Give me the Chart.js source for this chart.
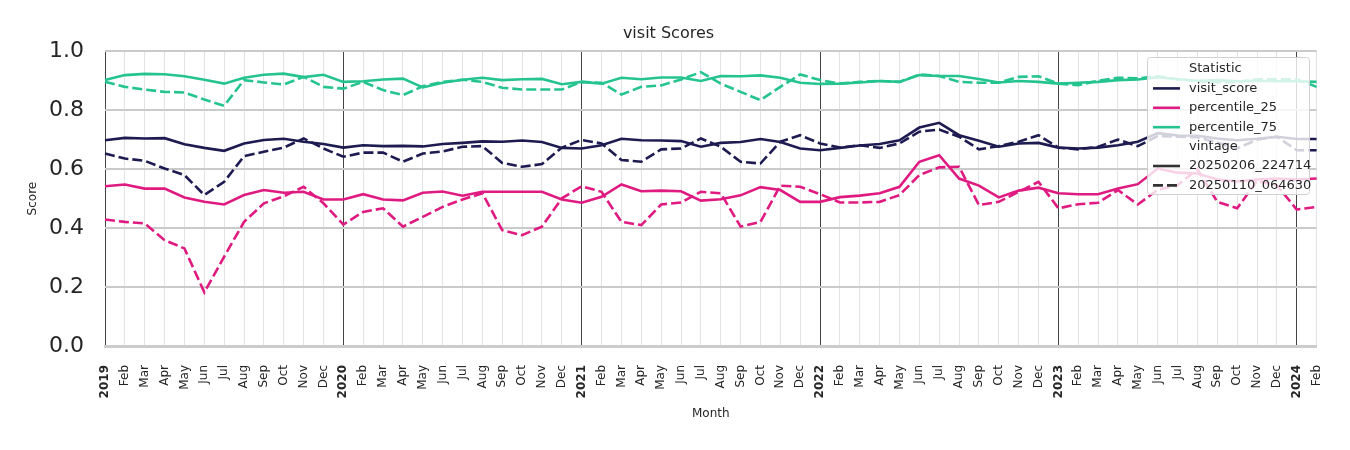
<!DOCTYPE html>
<html>
<head>
<meta charset="utf-8">
<script src="https://cdn.jsdelivr.net/npm/chart.js@4.4.1/dist/chart.umd.min.js"></script>
<style>
  html, body { margin: 0; padding: 0; background: #fff; }
  #wrap { width: 1350px; height: 450px; }
</style>
</head>
<body>
<div id="wrap"><canvas id="scoreChart" width="1350" height="450"></canvas></div>
<script>
// tick labels, one per month (Jan 2019 .. Feb 2024)
const months = [
  '2019','Feb','Mar','Apr','May','Jun','Jul','Aug','Sep','Oct','Nov','Dec',
  '2020','Feb','Mar','Apr','May','Jun','Jul','Aug','Sep','Oct','Nov','Dec',
  '2021','Feb','Mar','Apr','May','Jun','Jul','Aug','Sep','Oct','Nov','Dec',
  '2022','Feb','Mar','Apr','May','Jun','Jul','Aug','Sep','Oct','Nov','Dec',
  '2023','Feb','Mar','Apr','May','Jun','Jul','Aug','Sep','Oct','Nov','Dec',
  '2024','Feb'
];
const yTicks = [0, 0.2, 0.4, 0.6, 0.8, 1.0];

const statistics = ['visit_score', 'percentile_25', 'percentile_75'];
const vintages = ['20250206_224714', '20250110_064630'];

// vintage 20250206_224714 (solid)
const visitScore = [
  0.698, 0.706, 0.704, 0.705, 0.684, 0.672, 0.662, 0.687, 0.699, 0.703, 0.693, 0.685,
  0.673, 0.681, 0.678, 0.679, 0.677, 0.685, 0.689, 0.694, 0.693, 0.697, 0.692, 0.672,
  0.670, 0.681, 0.703, 0.698, 0.697, 0.695, 0.676, 0.689, 0.692, 0.702, 0.692, 0.670,
  0.664, 0.672, 0.680, 0.685, 0.698, 0.741, 0.757, 0.715, 0.696, 0.676, 0.687, 0.689,
  0.673, 0.670, 0.673, 0.681, 0.693, 0.722, 0.714, 0.713, 0.704, 0.698, 0.703, 0.710,
  0.702, 0.702
];
const pct25 = [
  0.542, 0.548, 0.534, 0.534, 0.504, 0.489, 0.480, 0.512, 0.529, 0.520, 0.523, 0.497,
  0.497, 0.515, 0.497, 0.494, 0.520, 0.524, 0.510, 0.523, 0.523, 0.523, 0.523, 0.497,
  0.486, 0.506, 0.548, 0.525, 0.527, 0.525, 0.493, 0.498, 0.511, 0.539, 0.529, 0.489,
  0.489, 0.505, 0.510, 0.518, 0.540, 0.625, 0.647, 0.568, 0.544, 0.504, 0.527, 0.537,
  0.518, 0.515, 0.515, 0.534, 0.549, 0.602, 0.588, 0.585, 0.565, 0.558, 0.565, 0.568,
  0.565, 0.568
];
const pct75 = [
  0.902, 0.919, 0.923, 0.922, 0.915, 0.903, 0.890, 0.910, 0.920, 0.924, 0.912, 0.920,
  0.896, 0.898, 0.904, 0.907, 0.877, 0.893, 0.903, 0.910, 0.902, 0.905, 0.906, 0.888,
  0.896, 0.890, 0.910, 0.905, 0.911, 0.911, 0.899, 0.916, 0.915, 0.918, 0.910, 0.893,
  0.889, 0.890, 0.894, 0.899, 0.896, 0.919, 0.916, 0.916, 0.906, 0.894, 0.899, 0.896,
  0.890, 0.893, 0.896, 0.902, 0.904, 0.912, 0.905, 0.900, 0.902, 0.898, 0.900, 0.898,
  0.898, 0.896
];

// vintage 20250110_064630 (dashed)
const visitScoreOld = [
  0.653, 0.636, 0.628, 0.602, 0.580, 0.512, 0.557, 0.644, 0.659, 0.673, 0.704, 0.670,
  0.642, 0.656, 0.656, 0.625, 0.653, 0.660, 0.676, 0.678, 0.621, 0.608, 0.617, 0.673,
  0.699, 0.687, 0.631, 0.625, 0.667, 0.670, 0.704, 0.676, 0.625, 0.619, 0.693, 0.715,
  0.687, 0.673, 0.681, 0.672, 0.687, 0.727, 0.734, 0.710, 0.667, 0.678, 0.693, 0.715,
  0.673, 0.667, 0.676, 0.700, 0.678, 0.712, 0.710, 0.708, 0.690, 0.670, 0.700, 0.710,
  0.664, 0.664
];
const pct25Old = [
  0.429, 0.421, 0.416, 0.359, 0.331, 0.182, 0.303, 0.421, 0.484, 0.508, 0.540, 0.484,
  0.412, 0.455, 0.467, 0.405, 0.438, 0.472, 0.497, 0.518, 0.393, 0.376, 0.405, 0.501,
  0.542, 0.523, 0.421, 0.410, 0.480, 0.487, 0.523, 0.518, 0.405, 0.421, 0.544, 0.540,
  0.515, 0.487, 0.487, 0.489, 0.512, 0.580, 0.606, 0.608, 0.478, 0.489, 0.523, 0.557,
  0.467, 0.481, 0.486, 0.529, 0.480, 0.530, 0.545, 0.600, 0.489, 0.467, 0.560, 0.545,
  0.463, 0.472
];
const pct75Old = [
  0.896, 0.879, 0.870, 0.862, 0.860, 0.836, 0.815, 0.902, 0.894, 0.887, 0.913, 0.879,
  0.873, 0.896, 0.868, 0.851, 0.881, 0.896, 0.903, 0.896, 0.876, 0.870, 0.870, 0.870,
  0.896, 0.893, 0.853, 0.879, 0.884, 0.904, 0.929, 0.890, 0.862, 0.834, 0.879, 0.921,
  0.902, 0.890, 0.896, 0.899, 0.896, 0.921, 0.916, 0.896, 0.893, 0.893, 0.913, 0.915,
  0.890, 0.885, 0.900, 0.910, 0.908, 0.915, 0.905, 0.898, 0.895, 0.895, 0.905, 0.905,
  0.905, 0.879
];

const colors = ['#1d1b50', '#df1a80', '#25c48e'];
const dashPattern = [10, 4];
const fontFamily = "'DejaVu Sans', sans-serif";
const textColor = '#262626';

function makeLine(label, data, color, dashed) {
  return {
    label: label,
    data: data,
    borderColor: color,
    backgroundColor: color,
    borderWidth: 2.6,
    borderDash: dashed ? dashPattern : [],
    pointRadius: 0,
    tension: 0,
    fill: false
  };
}

// legend box drawn inside the plot, seaborn style (two titled groups)
const boxLegend = {
  id: 'boxLegend',
  afterDatasetsDraw(chart) {
    const c = chart.ctx;
    const x0 = 1147.5, y0 = 57.5, w = 162, h = 137;
    c.save();
    c.beginPath();
    c.roundRect(x0, y0, w, h, 3);
    c.fillStyle = 'rgba(255,255,255,0.8)';
    c.fill();
    c.strokeStyle = '#d0d0d0';
    c.lineWidth = 1;
    c.stroke();

    const rows = [
      { text: 'Statistic' },
      { text: statistics[0], color: colors[0] },
      { text: statistics[1], color: colors[1] },
      { text: statistics[2], color: colors[2] },
      { text: 'vintage' },
      { text: vintages[0], color: '#333333' },
      { text: vintages[1], color: '#333333', dash: true }
    ];
    c.font = '13px ' + fontFamily;
    c.textBaseline = 'middle';
    c.textAlign = 'left';
    rows.forEach((r, i) => {
      const y = 69 + i * 19.4;
      if (r.color) {
        c.beginPath();
        c.setLineDash(r.dash ? dashPattern : []);
        c.strokeStyle = r.color;
        c.lineWidth = 2.6;
        c.moveTo(1153, y);
        c.lineTo(1180, y);
        c.stroke();
        c.setLineDash([]);
      }
      c.fillStyle = textColor;
      c.fillText(r.text, 1189, y);
    });
    c.restore();
  }
};

const ctx = document.getElementById('scoreChart').getContext('2d');

new Chart(ctx, {
  type: 'line',
  data: {
    labels: months,
    datasets: [
      makeLine('visit_score 20250206_224714', visitScore, colors[0], false),
      makeLine('percentile_25 20250206_224714', pct25, colors[1], false),
      makeLine('percentile_75 20250206_224714', pct75, colors[2], false),
      makeLine('visit_score 20250110_064630', visitScoreOld, colors[0], true),
      makeLine('percentile_25 20250110_064630', pct25Old, colors[1], true),
      makeLine('percentile_75 20250110_064630', pct75Old, colors[2], true)
    ]
  },
  options: {
    responsive: false,
    animation: false,
    layout: { padding: { left: 20, right: 33, top: 0, bottom: 29 } },
    plugins: {
      legend: { display: false },
      tooltip: { enabled: false },
      title: {
        display: true,
        text: 'visit Scores',
        color: textColor,
        font: { family: fontFamily, size: 16, weight: 'normal' },
        padding: { top: 24, bottom: 8 }
      }
    },
    scales: {
      x: {
        afterFit: (axis) => { axis.height = 75; },
        grid: {
          color: (c) => (c.index % 12 === 0 ? '#444444' : '#e3e3e3'),
          lineWidth: 1,
          drawTicks: false
        },
        border: { display: true, color: '#cccccc', width: 3 },
        ticks: {
          autoSkip: false,
          maxRotation: 90,
          minRotation: 90,
          padding: 19,
          color: textColor,
          font: (c) => ({
            family: fontFamily,
            size: 12,
            weight: (c.index % 12 === 0) ? 'bold' : 'normal'
          })
        },
        title: {
          display: true,
          text: 'Month',
          color: textColor,
          font: { family: fontFamily, size: 12 },
          padding: { top: 8, bottom: 0 }
        }
      },
      y: {
        min: 0,
        max: 1,
        afterBuildTicks: (axis) => { axis.ticks = yTicks.map(v => ({ value: v })); },
        afterFit: (axis) => { axis.width = 85; },
        grid: { color: '#cacaca', lineWidth: 2, drawTicks: false },
        border: { display: false },
        ticks: {
          padding: 21,
          color: textColor,
          font: { family: fontFamily, size: 22 },
          callback: (v) => Number(v).toFixed(1)
        },
        title: {
          display: true,
          text: 'Score',
          color: textColor,
          font: { family: fontFamily, size: 12 },
          padding: { top: 6, bottom: 0 }
        }
      }
    }
  },
  plugins: [boxLegend]
});
</script>
</body>
</html>
